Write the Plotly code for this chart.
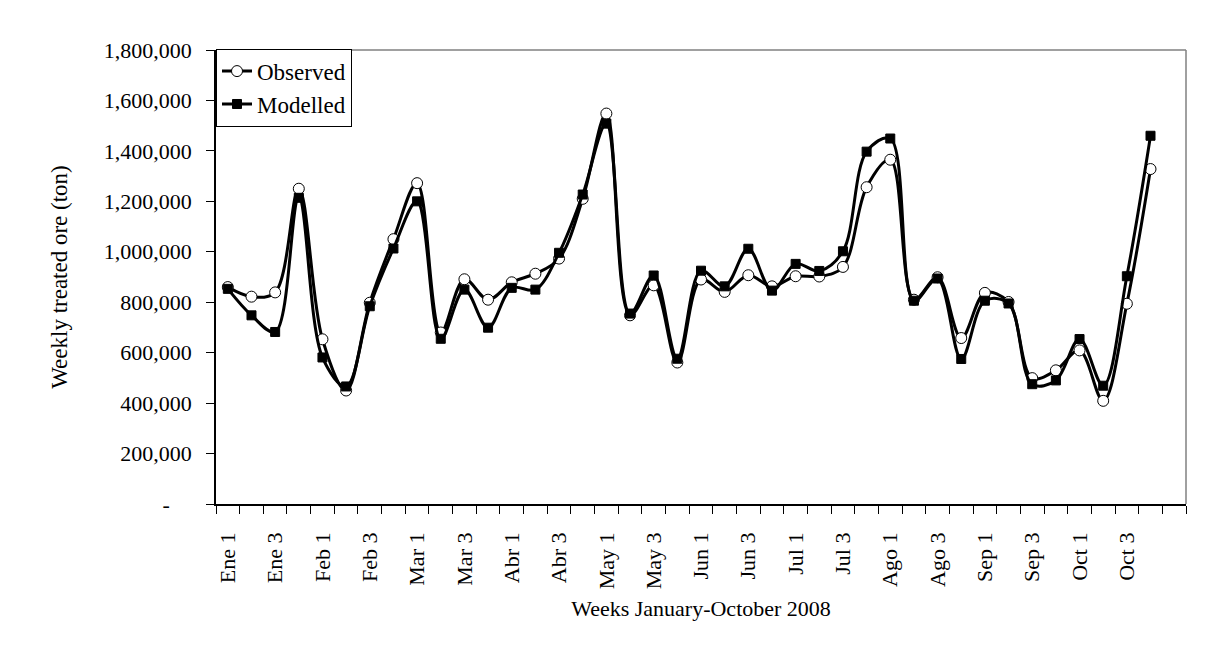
import plotly.graph_objects as go

weeks = [f"{m} {w}" for m in ["Ene", "Feb", "Mar", "Abr", "May", "Jun", "Jul", "Ago", "Sep", "Oct"] for w in (1, 2, 3, 4)]

observed = [860000, 822000, 839000, 1250000, 653000, 450000, 798000, 1050000,
            1272000, 680000, 891000, 810000, 879000, 913000, 973000, 1210000,
            1548000, 748000, 867000, 561000, 890000, 841000, 907000, 863000,
            903000, 902000, 940000, 1256000, 1365000, 810000, 899000, 658000,
            837000, 801000, 499000, 530000, 609000, 409000, 794000, 1328000]

modelled = [853000, 748000, 682000, 1214000, 581000, 466000, 784000, 1013000,
            1200000, 655000, 850000, 699000, 857000, 850000, 996000, 1227000,
            1508000, 755000, 906000, 576000, 925000, 863000, 1012000, 846000,
            952000, 924000, 1002000, 1397000, 1449000, 806000, 894000, 575000,
            806000, 795000, 475000, 490000, 654000, 469000, 903000, 1460000]

y_ticks = [0, 200000, 400000, 600000, 800000, 1000000, 1200000, 1400000, 1600000, 1800000]
y_tick_text = ["-\u00a0\u00a0\u00a0\u00a0"] + [f"{v:,}" for v in y_ticks[1:]]

x = list(range(len(weeks)))
label_idx = x[::2]
label_text = [weeks[i] for i in label_idx]

FONT = "Liberation Serif, Times New Roman, serif"

fig = go.Figure()
fig.add_trace(go.Scatter(
    x=x, y=observed, name="Observed", mode="lines+markers",
    line=dict(color="black", width=3, shape="spline", smoothing=1),
    marker=dict(symbol="circle", size=11, color="white", line=dict(color="black", width=1)),
))
fig.add_trace(go.Scatter(
    x=x, y=modelled, name="Modelled", mode="lines+markers",
    line=dict(color="black", width=3, shape="spline", smoothing=1),
    marker=dict(symbol="square", size=9, color="black", line=dict(color="black", width=1)),
))

fig.update_layout(
    width=1230, height=653,
    margin=dict(l=216, r=44, t=50, b=149),
    paper_bgcolor="white", plot_bgcolor="white",
    font=dict(family=FONT, size=22, color="black"),
    showlegend=True,
    legend=dict(x=0, y=1.003, xanchor="left", yanchor="top", bgcolor="white",
                bordercolor="black", borderwidth=1, font=dict(size=23),
                itemwidth=30, tracegroupgap=0),
    shapes=[
        dict(type="line", xref="paper", yref="paper", x0=0, x1=1, y0=1, y1=1,
             line=dict(color="#808080", width=1.5), layer="below"),
        dict(type="line", xref="paper", yref="paper", x0=1, x1=1, y0=0, y1=1,
             line=dict(color="#808080", width=1.5), layer="below"),
    ],
)

fig.update_xaxes(
    range=[-0.5, len(weeks) + 0.5],
    tickmode="array", tickvals=label_idx, ticktext=label_text,
    tickangle=-90, ticks="", showgrid=False, zeroline=False,
    showline=True, linecolor="black", linewidth=1.5,
    minor=dict(tick0=-0.5, dtick=1, ticks="outside", ticklen=8, tickcolor="black", tickwidth=1, showgrid=False),
    ticklabelstandoff=18,
    title=dict(text="Weeks January-October 2008", font=dict(size=22), standoff=12),
)
fig.update_yaxes(
    range=[0, 1800000],
    tickmode="array", tickvals=y_ticks, ticktext=y_tick_text,
    ticks="outside", ticklen=8, tickcolor="black", tickwidth=1,
    showgrid=False, zeroline=False,
    showline=True, linecolor="black", linewidth=1.5,
    ticklabelstandoff=10,
    title=dict(text="Weekly treated ore (ton)", font=dict(size=23), standoff=30),
)

fig.write_html("out.html")
